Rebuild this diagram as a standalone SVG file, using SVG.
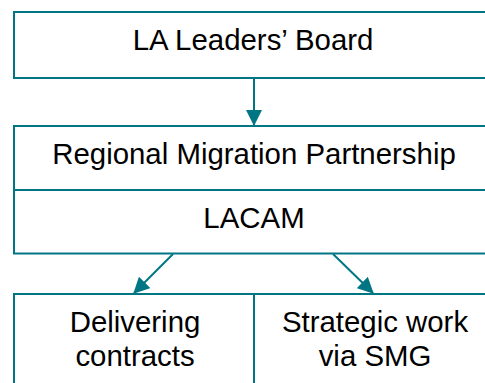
<svg xmlns="http://www.w3.org/2000/svg" width="485" height="383" viewBox="0 0 485 383">
  <defs>
    <marker id="arrow" markerUnits="userSpaceOnUse" markerWidth="16" markerHeight="16" viewBox="0 0 16 16" refX="15" refY="8" orient="auto">
      <path d="M0,0 L16,8 L0,16 Z" fill="#007684"/>
    </marker>
    <style>
      .box { fill: #ffffff; stroke: #007684; stroke-width: 2; }
      .div { stroke: #007684; stroke-width: 2; fill: none; }
      .conn { stroke: #007684; stroke-width: 2; fill: none; marker-end: url(#arrow); }
      .t { font-family: "Liberation Sans", Arial, sans-serif; font-size: 29.4px; fill: #000000; text-anchor: middle; }
    </style>
  </defs>
  <rect width="485" height="383" fill="#ffffff"/>
  <g id="connectors">
    <line class="conn" x1="254" y1="78" x2="254" y2="125"/>
    <line class="conn" x1="173" y1="254" x2="134" y2="293"/>
    <line class="conn" x1="333" y1="254" x2="373" y2="293"/>
  </g>
  <g id="leaders-board">
    <rect class="box" x="14" y="12" width="480" height="66"/>
    <text class="t" x="253" y="50">LA Leaders’ Board</text>
  </g>
  <g id="rmp-lacam">
    <rect class="box" x="14" y="126" width="480" height="127.5"/>
    <line class="div" x1="14" y1="190" x2="494" y2="190"/>
    <text class="t" x="254" y="164">Regional Migration Partnership</text>
    <text class="t" x="254" y="228">LACAM</text>
  </g>
  <g id="delivering">
    <rect class="box" x="14" y="294" width="240" height="100"/>
    <text class="t" x="135" y="332">Delivering</text>
    <text class="t" x="135" y="366">contracts</text>
  </g>
  <g id="strategic">
    <rect class="box" x="254" y="294" width="240" height="100"/>
    <text class="t" x="375" y="332">Strategic work</text>
    <text class="t" x="375" y="366">via SMG</text>
  </g>
</svg>
